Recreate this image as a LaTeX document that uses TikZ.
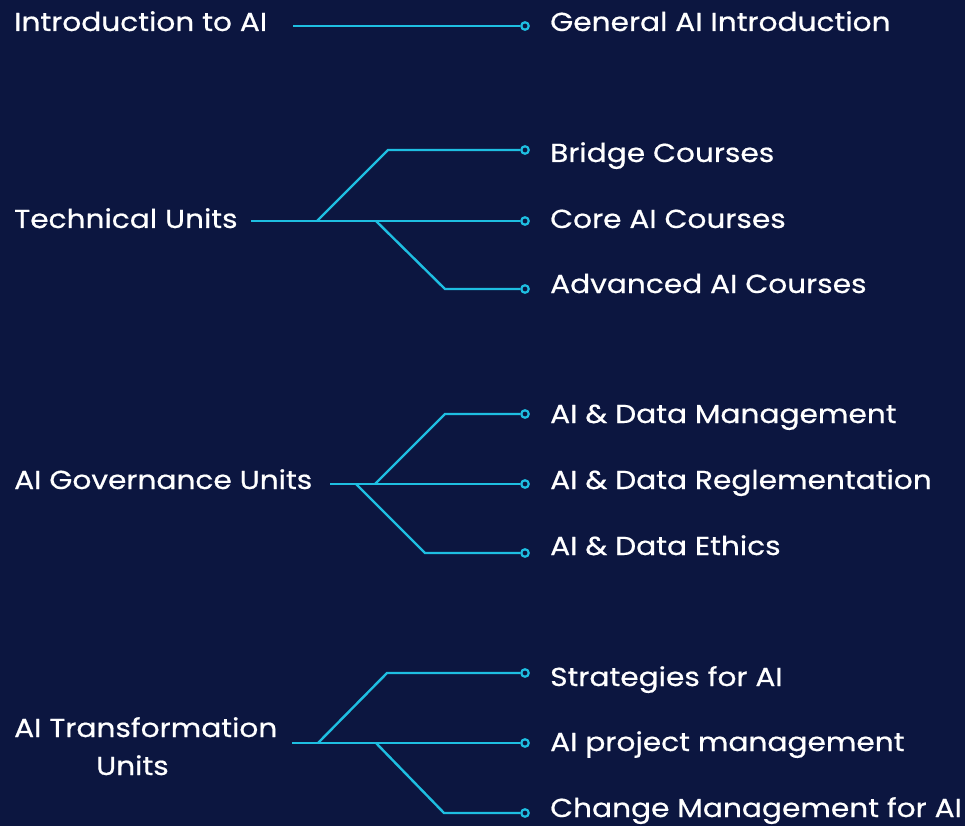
\documentclass[tikz,border=0pt]{standalone}
\usepackage{fontspec}
\setmainfont{Poppins}[FakeStretch=1.14,FakeBold=0.6]
\definecolor{bg}{RGB}{12,22,64}
\definecolor{cy}{RGB}{30,190,225}
\begin{document}
\begin{tikzpicture}[x=1pt,y=-1pt,
  lbl/.style={anchor=base west,inner sep=0pt,text=white,font=\fontsize{26}{30}\selectfont},
  conn/.style={draw=cy,line width=2.4pt},
  dot/.style={circle,draw=cy,fill=bg,line width=2.2pt,minimum size=7.5pt,inner sep=0pt}]
\fill[bg] (0,0) rectangle (965,826);
\useasboundingbox (0,0) rectangle (965,826);
% group 1
\node[lbl] (g1) at (14,31) {Introduction to AI};
\node[lbl] (g1a) at (550,31) {General AI Introduction};
\coordinate (a0) at (293,26);
\node[dot] (a1) at (525,26) {};
\draw[conn] (a0) -- (a1);
% group 2
\node[lbl] (g2) at (14,228) {Technical Units};
\node[lbl] (b1l) at (550,162) {Bridge Courses};
\node[lbl] (b2l) at (550,228) {Core AI Courses};
\node[lbl] (b3l) at (550,293) {Advanced AI Courses};
\coordinate (b0) at (251,221);
\coordinate (bj1) at (317,221);
\coordinate (bk1) at (388,150);
\coordinate (bj2) at (376,221);
\coordinate (bk2) at (445,289);
\node[dot] (b1) at (525,150) {};
\node[dot] (b2) at (525,221) {};
\node[dot] (b3) at (525,289) {};
\draw[conn] (b0) -- (b2);
\draw[conn] (bj1) -- (bk1) -- (b1);
\draw[conn] (bj2) -- (bk2) -- (b3);
% group 3
\node[lbl] (g3) at (14,489) {AI Governance Units};
\node[lbl] (c1l) at (550,423) {AI \& Data Management};
\node[lbl] (c2l) at (550,489) {AI \& Data Reglementation};
\node[lbl] (c3l) at (550,555) {AI \& Data Ethics};
\coordinate (c0) at (330,484);
\coordinate (cj1) at (375,484);
\coordinate (ck1) at (445,414);
\coordinate (cj2) at (356,484);
\coordinate (ck2) at (425,553);
\node[dot] (c1) at (525,414) {};
\node[dot] (c2) at (525,484) {};
\node[dot] (c3) at (525,553) {};
\draw[conn] (c0) -- (c2);
\draw[conn] (cj1) -- (ck1) -- (c1);
\draw[conn] (cj2) -- (ck2) -- (c3);
% group 4
\node[lbl] (g4) at (14,737) {AI Transformation};
\node[lbl] (g4b) at (96,775) {Units};
\node[lbl] (d1l) at (550,686) {Strategies for AI};
\node[lbl] (d2l) at (550,751) {AI project management};
\node[lbl] (d3l) at (550,817) {Change Management for AI};
\coordinate (d0) at (292,743);
\coordinate (dj1) at (318,743);
\coordinate (dk1) at (387,673);
\coordinate (dj2) at (376,743);
\coordinate (dk2) at (444,813);
\node[dot] (d1) at (525,673) {};
\node[dot] (d2) at (525,743) {};
\node[dot] (d3) at (525,813) {};
\draw[conn] (d0) -- (d2);
\draw[conn] (dj1) -- (dk1) -- (d1);
\draw[conn] (dj2) -- (dk2) -- (d3);
\end{tikzpicture}
\end{document}
